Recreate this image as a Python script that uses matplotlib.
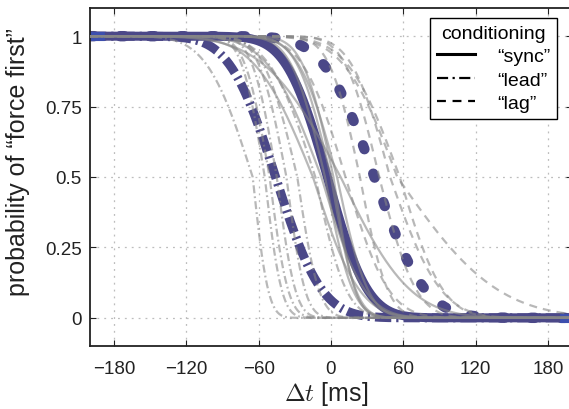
import math
import numpy as np
import matplotlib
matplotlib.use("Agg")
import matplotlib.pyplot as plt
from matplotlib.lines import Line2D

plt.rcParams['font.family'] = ['Liberation Sans', 'DejaVu Sans']
plt.rcParams['mathtext.fontset'] = 'cm'

# ---------------- data: fitted psychometric curves (PSE, lower/upper spread, ms)
conditions = ["sync", "lead", "lag"]

sync_mu = [2, 0, -5, 5, 8, -15, -8]
sync_slo = [20, 22, 22, 25, 50, 38, 35]
sync_shi = [14, 16, 18, 20, 45, 30, 28]

lead_mu = [-65, -55, -51, -45, -37, -28, -13]
lead_slo = [30, 15, 16, 16, 18, 22, 30]
lead_shi = [10, 11, 12, 12, 12, 14, 20]

lag_mu = [24, 49, 57, 55, 40, 12]
lag_slo = [20, 25, 34, 35, 22, 28]
lag_shi = [18, 33, 28, 65, 24, 28]

mean_mu = [-3, -46, 36]
mean_slo = [27, 30, 33]
mean_shi = [26, 30, 33]

x_range = [-200, 200]
xticks = [-180, -120, -60, 0, 60, 120, 180]
yticks = [0, 0.25, 0.5, 0.75, 1]
ytick_labels = ["0", "0.25", "0.5", "0.75", "1"]

# ---------------- helpers
_erf = np.vectorize(math.erf)


def psy(x, mu, slo, shi):
    s = np.where(x < mu, slo, shi)
    z = (x - mu) / s
    return 0.5 * (1 - _erf(z / math.sqrt(2)))


x = np.linspace(x_range[0], x_range[1], 801)

fig = plt.figure(figsize=(5.69, 4.10), dpi=100)
ax = fig.add_axes([90 / 569, 63 / 410, 482 / 569, 338 / 410])

blue = '#4b4888'
bright = '#3d4fae'
gray = '#868686'
galpha = 0.58

dash_gray = (0, (3.6, 2.7))
dashdot_gray = (0, (3.6, 1.4, 0.8, 1.4))

# thick mean curves
styles_mean = [
    dict(ls='-', lw=6.5, solid_capstyle='butt'),
    dict(ls=(0, (1.8, 0.55, 0.25, 0.55)), lw=6.5, dash_capstyle='butt'),
    dict(ls=(0, (0.4, 2.5)), lw=7.5, dash_capstyle='round'),
]
for mu, slo, shi, st in zip(mean_mu, mean_slo, mean_shi, styles_mean):
    y = psy(x, mu, slo, shi)
    ax.plot(x, y, color=blue, zorder=2, **st)
for mu, slo, shi in zip(mean_mu, mean_slo, mean_shi):
    y = psy(x, mu, slo, shi)
    for m in (x <= -188, x >= 190):
        ax.plot(x[m], y[m], color=bright, lw=6.5, solid_capstyle='butt', zorder=2.5)

# individual curves
for mu, slo, shi in zip(sync_mu, sync_slo, sync_shi):
    ax.plot(x, psy(x, mu, slo, shi), color=gray, alpha=galpha, lw=1.6, ls='-', zorder=3)
for mu, slo, shi in zip(lead_mu, lead_slo, lead_shi):
    ax.plot(x, psy(x, mu, slo, shi), color=gray, alpha=galpha, lw=1.6, ls=dashdot_gray, zorder=3)
for mu, slo, shi in zip(lag_mu, lag_slo, lag_shi):
    ax.plot(x, psy(x, mu, slo, shi), color=gray, alpha=galpha, lw=1.6, ls=dash_gray, zorder=3)

ax.set_xlim(x_range)
ax.set_ylim(-0.1, 1.1)
ax.set_xticks(xticks)
ax.set_yticks(yticks)
ax.set_yticklabels(ytick_labels)
ax.tick_params(direction='in', length=4, width=0.8, top=True, right=True,
               labelsize=13.5, pad=6, colors='#222222')
ax.tick_params(axis='x', pad=10)
for sp in ax.spines.values():
    sp.set_linewidth(1.3)
    sp.set_color('#222222')
ax.grid(True, ls=(0, (1.5, 4)), color='#bdbdbd', lw=0.9)
ax.set_axisbelow(True)

ax.set_xlabel(r'$\Delta t$ [ms]', fontsize=18, color='#222222')
ax.set_ylabel('probability of “force first”', fontsize=18, color='#222222')
ax.xaxis.set_label_coords((326 - 90) / 482, (347 - 380) / 338)
ax.yaxis.set_label_coords((30 - 90) / 482, (347 - 162) / 338)

handles = [Line2D([], [], color='black', lw=2.2, ls='-'),
           Line2D([], [], color='black', lw=1.6, ls=(0, (5, 2, 1, 2))),
           Line2D([], [], color='black', lw=1.6, ls=(0, (4, 3)))]
labels = ['“sync”', '“lead”', '“lag”']
leg = ax.legend(handles, labels, title='conditioning', loc='upper right',
                bbox_to_anchor=((557 - 90) / 482, (347 - 19) / 338),
                fontsize=14, title_fontsize=14, fancybox=False, framealpha=1,
                edgecolor='black', handlelength=1.95, handletextpad=1.15,
                borderpad=0.35, labelspacing=0.3, borderaxespad=0)
leg.get_frame().set_linewidth(1.0)
leg.set_zorder(10)

fig.savefig('out.png', dpi=100)
